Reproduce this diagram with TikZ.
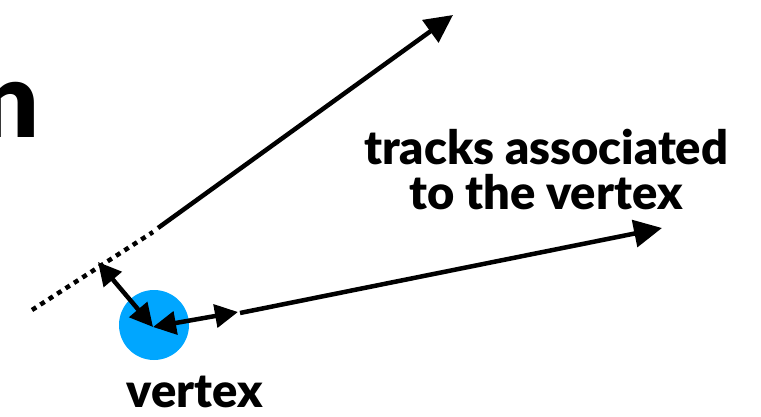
\documentclass[tikz,border=0pt]{standalone}
\usepackage{fontspec}
\setmainfont{Lato}[BoldFont={Lato Black}]
\usetikzlibrary{arrows.meta}
\definecolor{VtxBlue}{RGB}{0,166,255}

\begin{document}
\begin{tikzpicture}[x=1pt, y=-1pt,
        track/.style={line width=4.5pt, -{Triangle[length=28pt, width=27pt]}},
        dist/.style={line width=4.5pt, {Triangle[length=23pt, width=23pt]}-{Triangle[length=23pt, width=23pt]}},
        extrap/.style={line width=4.5pt, dash pattern=on 5pt off 5pt},
        lbl/.style={font=\bfseries\fontsize{47}{45}\selectfont, align=center, inner sep=0pt}
    ]
        \useasboundingbox (0,0) rectangle (761,417);
        % Cut-off title letter
        \node[inner sep=0pt, anchor=base east, font=\bfseries\fontsize{105}{105}\selectfont] (title) at (40,138) {n};
        % Vertex
        \node[circle, fill=VtxBlue, minimum size=70pt, inner sep=0pt] (vtx) at (154,325) {};
        \coordinate (vc) at (153,327);
        \node[lbl, anchor=base] (vtxlbl) at (195,407) {vertex};
        % Track 1 and its backward extrapolation
        \coordinate (t1a) at (158,228);
        \coordinate (t1b) at (453,15);
        \coordinate (ex0) at (32,310);
        \coordinate (ex1) at (153,232);
        \coordinate (poca) at (98,262);
        \draw[track] (t1a) -- (t1b);
        \draw[extrap] (ex0) -- (ex1);
        % Track 2
        \coordinate (t2a) at (240,313);
        \coordinate (t2b) at (662,228);
        \coordinate (t2c) at (238,312);
        \draw[track] (t2a) -- (t2b);
        % Impact parameters
        \draw[dist] (poca) -- (vc);
        \draw[dist] (vc) -- (t2c);
        \node[lbl] (trklbl) at (546,170) {tracks associated\\to the vertex};
    \end{tikzpicture}
\end{document}
